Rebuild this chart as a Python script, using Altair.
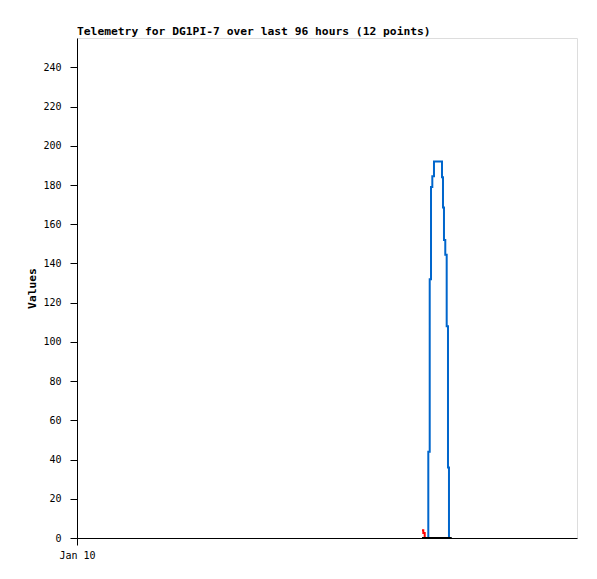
import altair as alt
import pandas as pd

# hours since Jan 10 00:00 (axis spans 96 hours)
blue_hours = [67.45, 67.45, 67.72, 67.97, 68.22, 68.54, 70.08, 70.27, 70.46, 70.71, 70.98, 71.23, 71.42]
blue_values = [0, 44, 132, 179, 184.5, 192, 184, 168.5, 152, 144.5, 108, 36, 0]

red_hours = [66.24, 66.49, 66.76]
red_values = [4, 2.5, 0]

black_hours = [66.24, 67.45, 68.54, 70.08, 71.42, 71.95]
black_values = [0, 0, 0, 0, 0, 0]

y_ticks = [0, 20, 40, 60, 80, 100, 120, 140, 160, 180, 200, 220, 240]
x_tick_hours = [0]
x_tick_labels = ["Jan 10"]

title_text = "Telemetry for DG1PI-7 over last 96 hours (12 points)"

def frame(hours, values, name):
    return pd.DataFrame({"hours": hours, "value": values, "series": name, "order": range(len(hours))})

df = pd.concat([
    frame(red_hours, red_values, "red"),
    frame(blue_hours, blue_values, "blue"),
    frame(black_hours, black_values, "black"),
])

label_expr = " : ".join(
    [f"datum.value == {h} ? '{l}'" for h, l in zip(x_tick_hours, x_tick_labels)] + ["''"]
)

x_enc = alt.X(
    "hours:Q",
    scale=alt.Scale(domain=[0, 96], nice=False, zero=False),
    axis=alt.Axis(
        values=x_tick_hours, labelExpr=label_expr, title=None, grid=False,
        tickSize=7, tickColor="black", domainColor="black", labelColor="black",
        labelFont="DejaVu Sans Mono", labelFontSize=10, labelPadding=5,
        labelAlign="center", labelFlush=False,
    ),
)
y_enc = alt.Y(
    "value:Q",
    scale=alt.Scale(domain=[0, 255], nice=False, zero=True),
    axis=alt.Axis(
        values=y_ticks, title="Values", grid=False, tickSize=7,
        tickColor="black", domainColor="black", labelColor="black",
        labelFont="DejaVu Sans Mono", labelFontSize=10, labelPadding=9,
        titleFont="DejaVu Sans Mono", titleFontSize=11.3, titleFontWeight="bold",
        titleColor="black", titleX=-45, titleY=250, titleAngle=-90,
        titleAlign="center", titleBaseline="middle",
    ),
)

def layer(name, color, width):
    return alt.Chart(df).transform_filter(alt.datum.series == name).mark_line(
        interpolate="step-after", color=color, strokeWidth=width
    ).encode(x=x_enc, y=y_enc, order="order:Q")

chart = alt.layer(
    layer("red", "#ff0000", 2),
    layer("blue", "#0066cc", 2),
    layer("black", "#000000", 2),
).properties(
    width=500,
    height=500,
    title=alt.TitleParams(
        text=title_text, anchor="start", frame="group", font="DejaVu Sans Mono",
        fontSize=11.3, fontWeight="bold", color="black", offset=1,
    ),
    autosize=alt.AutoSizeParams(type="none"),
    padding={"left": 69, "top": 30, "right": 12, "bottom": 33},
).configure_view(stroke="#555555", strokeWidth=1).configure(background="white")

chart.save("out.html", embed_options={"renderer": "svg", "actions": False})
